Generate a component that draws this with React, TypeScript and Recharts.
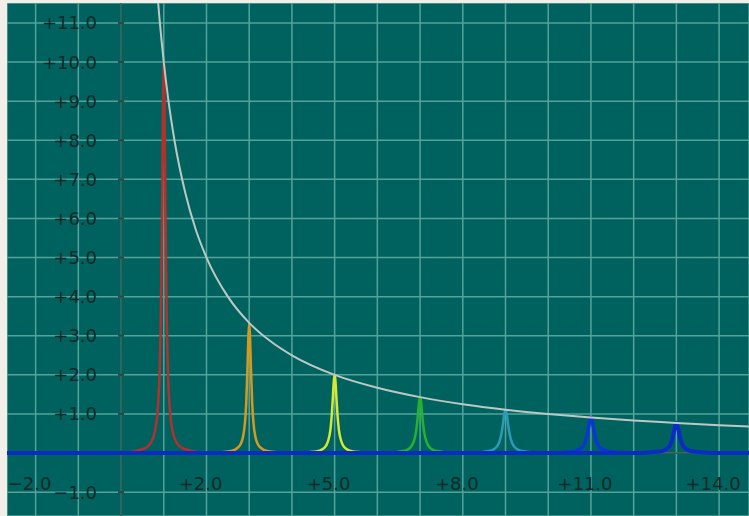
import { LineChart, Line, XAxis, YAxis, CartesianGrid, ReferenceLine, ReferenceDot } from 'recharts';

// grid / tick values
const gridX = [-2, -1, 0, 1, 2, 3, 4, 5, 6, 7, 8, 9, 10, 11, 12, 13, 14];
const gridY = [-1, 0, 1, 2, 3, 4, 5, 6, 7, 8, 9, 10, 11];
const xLabelValues = [-2, 2, 5, 8, 11, 14];
const xLabelTexts = ['\u22122.0', '+2.0', '+5.0', '+8.0', '+11.0', '+14.0'];
const yLabelValues = [-1, 1, 2, 3, 4, 5, 6, 7, 8, 9, 10, 11];
const yLabelTexts = ['\u22121.0', '+1.0', '+2.0', '+3.0', '+4.0', '+5.0', '+6.0', '+7.0', '+8.0', '+9.0', '+10.0', '+11.0'];

// peaks
const peak1X = [0.1, 0.4, 0.6, 0.7, 0.8, 0.85, 0.9, 0.93, 0.96, 0.98, 1.0, 1.02, 1.04, 1.07, 1.1, 1.15, 1.2, 1.3, 1.4, 1.6, 1.9];
const peak1Y = [0.0, 0.07, 0.15, 0.27, 0.59, 1.0, 2.0, 3.38, 6.1, 8.62, 10.0, 8.62, 6.1, 3.38, 2.0, 1.0, 0.59, 0.27, 0.15, 0.07, 0.0];
const peak3X = [2.1, 2.4, 2.6, 2.7, 2.8, 2.85, 2.9, 2.93, 2.96, 2.98, 3.0, 3.02, 3.04, 3.07, 3.1, 3.15, 3.2, 3.3, 3.4, 3.6, 3.9];
const peak3Y = [0.0, 0.03, 0.06, 0.11, 0.23, 0.39, 0.77, 1.27, 2.18, 2.94, 3.33, 2.94, 2.18, 1.27, 0.77, 0.39, 0.23, 0.11, 0.06, 0.03, 0.0];
const peak5X = [4.1, 4.4, 4.6, 4.7, 4.8, 4.85, 4.9, 4.93, 4.96, 4.98, 5.0, 5.02, 5.04, 5.07, 5.1, 5.15, 5.2, 5.3, 5.4, 5.6, 5.9];
const peak5Y = [0.0, 0.02, 0.05, 0.09, 0.19, 0.32, 0.59, 0.93, 1.45, 1.83, 2.0, 1.83, 1.45, 0.93, 0.59, 0.32, 0.19, 0.09, 0.05, 0.02, 0.0];
const peak7X = [6.1, 6.4, 6.6, 6.7, 6.8, 6.85, 6.9, 6.93, 6.96, 6.98, 7.0, 7.02, 7.04, 7.07, 7.1, 7.15, 7.2, 7.3, 7.4, 7.6, 7.9];
const peak7Y = [0.0, 0.02, 0.05, 0.08, 0.18, 0.29, 0.51, 0.76, 1.11, 1.34, 1.43, 1.34, 1.11, 0.76, 0.51, 0.29, 0.18, 0.08, 0.05, 0.02, 0.0];
const peak9X = [8.1, 8.4, 8.6, 8.7, 8.8, 8.85, 8.9, 8.93, 8.96, 8.98, 9.0, 9.02, 9.04, 9.07, 9.1, 9.15, 9.2, 9.3, 9.4, 9.6, 9.9];
const peak9Y = [0.0, 0.02, 0.05, 0.08, 0.17, 0.27, 0.47, 0.66, 0.91, 1.05, 1.11, 1.05, 0.91, 0.66, 0.47, 0.27, 0.17, 0.08, 0.05, 0.02, 0.0];
const peak11X = [10.1, 10.4, 10.6, 10.7, 10.8, 10.85, 10.9, 10.93, 10.96, 10.98, 11.0, 11.02, 11.04, 11.07, 11.1, 11.15, 11.2, 11.3, 11.4, 11.6, 11.9];
const peak11Y = [0.0, 0.02, 0.04, 0.08, 0.15, 0.24, 0.41, 0.57, 0.76, 0.87, 0.91, 0.87, 0.76, 0.57, 0.41, 0.24, 0.15, 0.08, 0.04, 0.02, 0.0];
const peak13X = [-2.7, 12.1, 12.4, 12.6, 12.7, 12.8, 12.85, 12.9, 12.93, 12.96, 12.98, 13.0, 13.02, 13.04, 13.07, 13.1, 13.15, 13.2, 13.3, 13.4, 13.6, 13.9, 14.7];
const peak13Y = [0.0, 0.0, 0.02, 0.04, 0.06, 0.13, 0.2, 0.34, 0.48, 0.64, 0.73, 0.77, 0.73, 0.64, 0.48, 0.34, 0.2, 0.13, 0.06, 0.04, 0.02, 0.0, 0.0];

// upper envelope
const envX = [0.85, 0.9, 1.0, 1.1, 1.25, 1.5, 1.75, 2.0, 2.5, 3.0, 3.5, 4.0, 5.0, 6.0, 7.0, 8.0, 9.0, 10.0, 11.0, 12.0, 13.0, 14.0, 14.7];
const envY = [11.76, 11.11, 10.0, 9.09, 8.0, 6.67, 5.71, 5.0, 4.0, 3.33, 2.86, 2.5, 2.0, 1.67, 1.43, 1.25, 1.11, 1.0, 0.91, 0.83, 0.77, 0.71, 0.68];

const zip = (xs: number[], ys: number[]) => xs.map((x, i) => ({ x, y: ys[i] }));

const peaks = [
  { data: zip(peak1X, peak1Y), color: '#b3312d', width: 2.5 },
  { data: zip(peak3X, peak3Y), color: '#d49a20', width: 2.5 },
  { data: zip(peak5X, peak5Y), color: '#d6e832', width: 2.5 },
  { data: zip(peak7X, peak7Y), color: '#22b42c', width: 2.5 },
  { data: zip(peak9X, peak9Y), color: '#2a9bb6', width: 2.5 },
  { data: zip(peak11X, peak11Y), color: '#0a38cf', width: 3.5 },
  { data: zip(peak13X, peak13Y), color: '#0a2bc6', width: 4 },
];

const labelColor = '#112a28';
const font = '"DejaVu Sans", sans-serif';

export default function App() {
  return (
    <div>
      <style>{`body { margin: 0; background: #f2efe9; }`}</style>
      <div style={{ position: 'absolute', left: 7, top: 3, width: 742, height: 513, background: '#00625e', overflow: 'hidden' }}>
        <LineChart width={742} height={513} margin={{ top: 0, right: 0, bottom: 0, left: 0 }}>
          <CartesianGrid stroke="#55a29c" strokeWidth={1.5} />
          <XAxis type="number" dataKey="x" domain={[-2.67, 14.7]} ticks={gridX} allowDataOverflow hide />
          <YAxis type="number" domain={[-1.61, 11.51]} ticks={gridY} allowDataOverflow hide />
          <ReferenceLine x={0} stroke="#2b4744" strokeWidth={1.2} />
          <ReferenceLine y={0} stroke="#2b4744" strokeWidth={1.2} />
          {yLabelValues.map((v, i) => (
            <ReferenceDot
              key={'y' + v}
              x={0}
              y={v}
              shape={(p: any) => (
                <g>
                  <line x1={p.cx - 3} x2={p.cx + 3} y1={p.cy} y2={p.cy} stroke="#2b4744" strokeWidth={2} />
                  <text x={p.cx - 24} y={p.cy} textAnchor="end" dominantBaseline="central" fill={labelColor} fontSize={18} fontFamily={font}>
                    {yLabelTexts[i]}
                  </text>
                </g>
              )}
            />
          ))}
          {xLabelValues.map((v, i) => (
            <ReferenceDot
              key={'x' + v}
              x={v}
              y={0}
              shape={(p: any) => (
                <g>
                  <text x={p.cx - 6} y={p.cy + 30} textAnchor="middle" dominantBaseline="central" fill={labelColor} fontSize={18} fontFamily={font}>
                    {xLabelTexts[i]}
                  </text>
                </g>
              )}
            />
          ))}
          {peaks.map((s, i) => (
            <Line
              key={i}
              data={s.data}
              dataKey="y"
              type="monotone"
              stroke={s.color}
              strokeWidth={s.width}
              dot={false}
              activeDot={false}
              isAnimationActive={false}
            />
          ))}
          <Line
            data={zip(envX, envY)}
            dataKey="y"
            type="monotone"
            stroke="#bcc8c6"
            strokeWidth={2}
            dot={false}
            activeDot={false}
            isAnimationActive={false}
          />
        </LineChart>
      </div>
    </div>
  );
}
